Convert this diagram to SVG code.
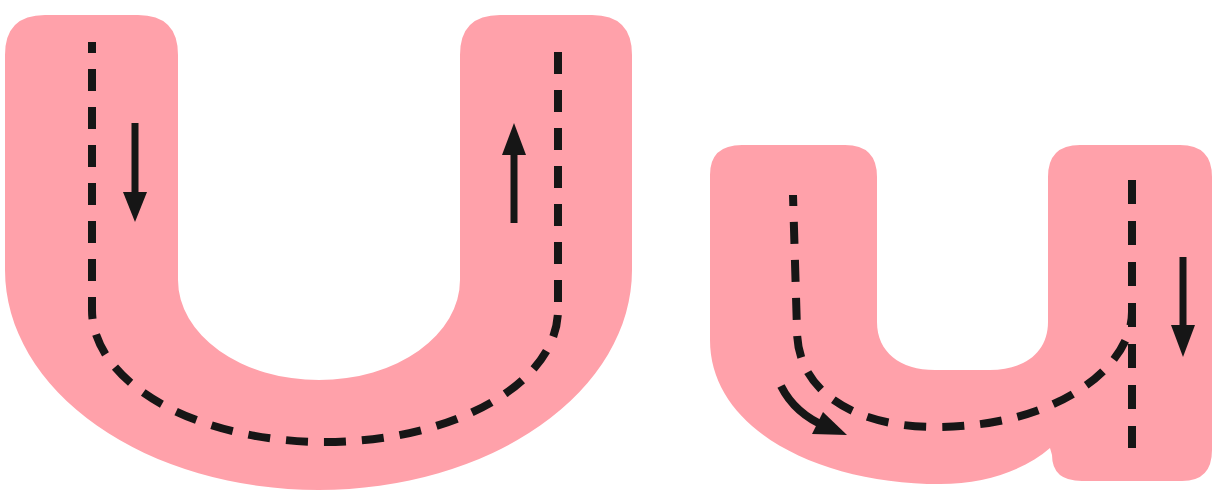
<svg xmlns="http://www.w3.org/2000/svg" width="1213" height="492" viewBox="0 0 1213 492">
  <style>
    .letter { fill: #FFA1AA; stroke: none; }
    .trace { fill: none; stroke: #161616; stroke-width: 8; stroke-dasharray: 22 16; stroke-dashoffset: 11; }
    .shaft { fill: none; stroke: #161616; stroke-width: 7; }
    .head { fill: #161616; }
  </style>
  <rect width="1213" height="492" fill="#ffffff"/>
  <g id="big-u">
    <path class="letter" d="M 5,55 Q 5,15 45,15 L 138,15 Q 178,15 178,55 L 178,280 A 141 100 0 0 0 460,280 L 460,55 Q 460,15 500,15 L 592,15 Q 632,15 632,55 L 632,270 A 313.5 220 0 0 1 5,270 Z"/>
  </g>
  <g id="small-u">
    <path class="letter" d="M 710,175 Q 710,145 742,145 L 845,145 Q 877,145 877,177 L 877,322 C 877,352 900,370 935,370 L 990,370 C 1025,370 1048,352 1048,322 L 1048,177 Q 1048,145 1080,145 L 1180,145 Q 1212,145 1212,177 L 1212,450 Q 1212,481 1182,481 L 1082,481 Q 1052,481 1052,455 L 1050,448 C 1025,470 985,484 940,484 C 820,484 710,430 710,340 Z"/>
  </g>
  <g id="connectors">
    <path class="trace" d="M 92,42 L 92,310 A 233 132 0 0 0 558,310"/>
    <path class="trace" d="M 558,310 L 558,42" style="stroke-dasharray:22 16;stroke-dashoffset:30"/>
    <line class="shaft" x1="135" y1="123" x2="135" y2="195"/>
    <polygon class="head" points="123,192 147,192 135,222"/>
    <line class="shaft" x1="514" y1="152" x2="514" y2="223"/>
    <polygon class="head" points="502,155 526,155 514,123"/>

    <path class="trace" d="M 793,195 L 797,330 C 797,395 860,427 935,427 C 1060,427 1132,365 1132,312"/>
    <path class="trace" d="M 1132,180 L 1132,448" style="stroke-dasharray:24 17;stroke-dashoffset:0"/>
    <path class="shaft" d="M 781,386 Q 795,414 827,427" style="stroke-width:8"/>
    <polygon class="head" points="812,434 823,412 847,435"/>
    <line class="shaft" x1="1183" y1="257" x2="1183" y2="328"/>
    <polygon class="head" points="1171,325 1195,325 1183,357"/>
  </g>
</svg>
